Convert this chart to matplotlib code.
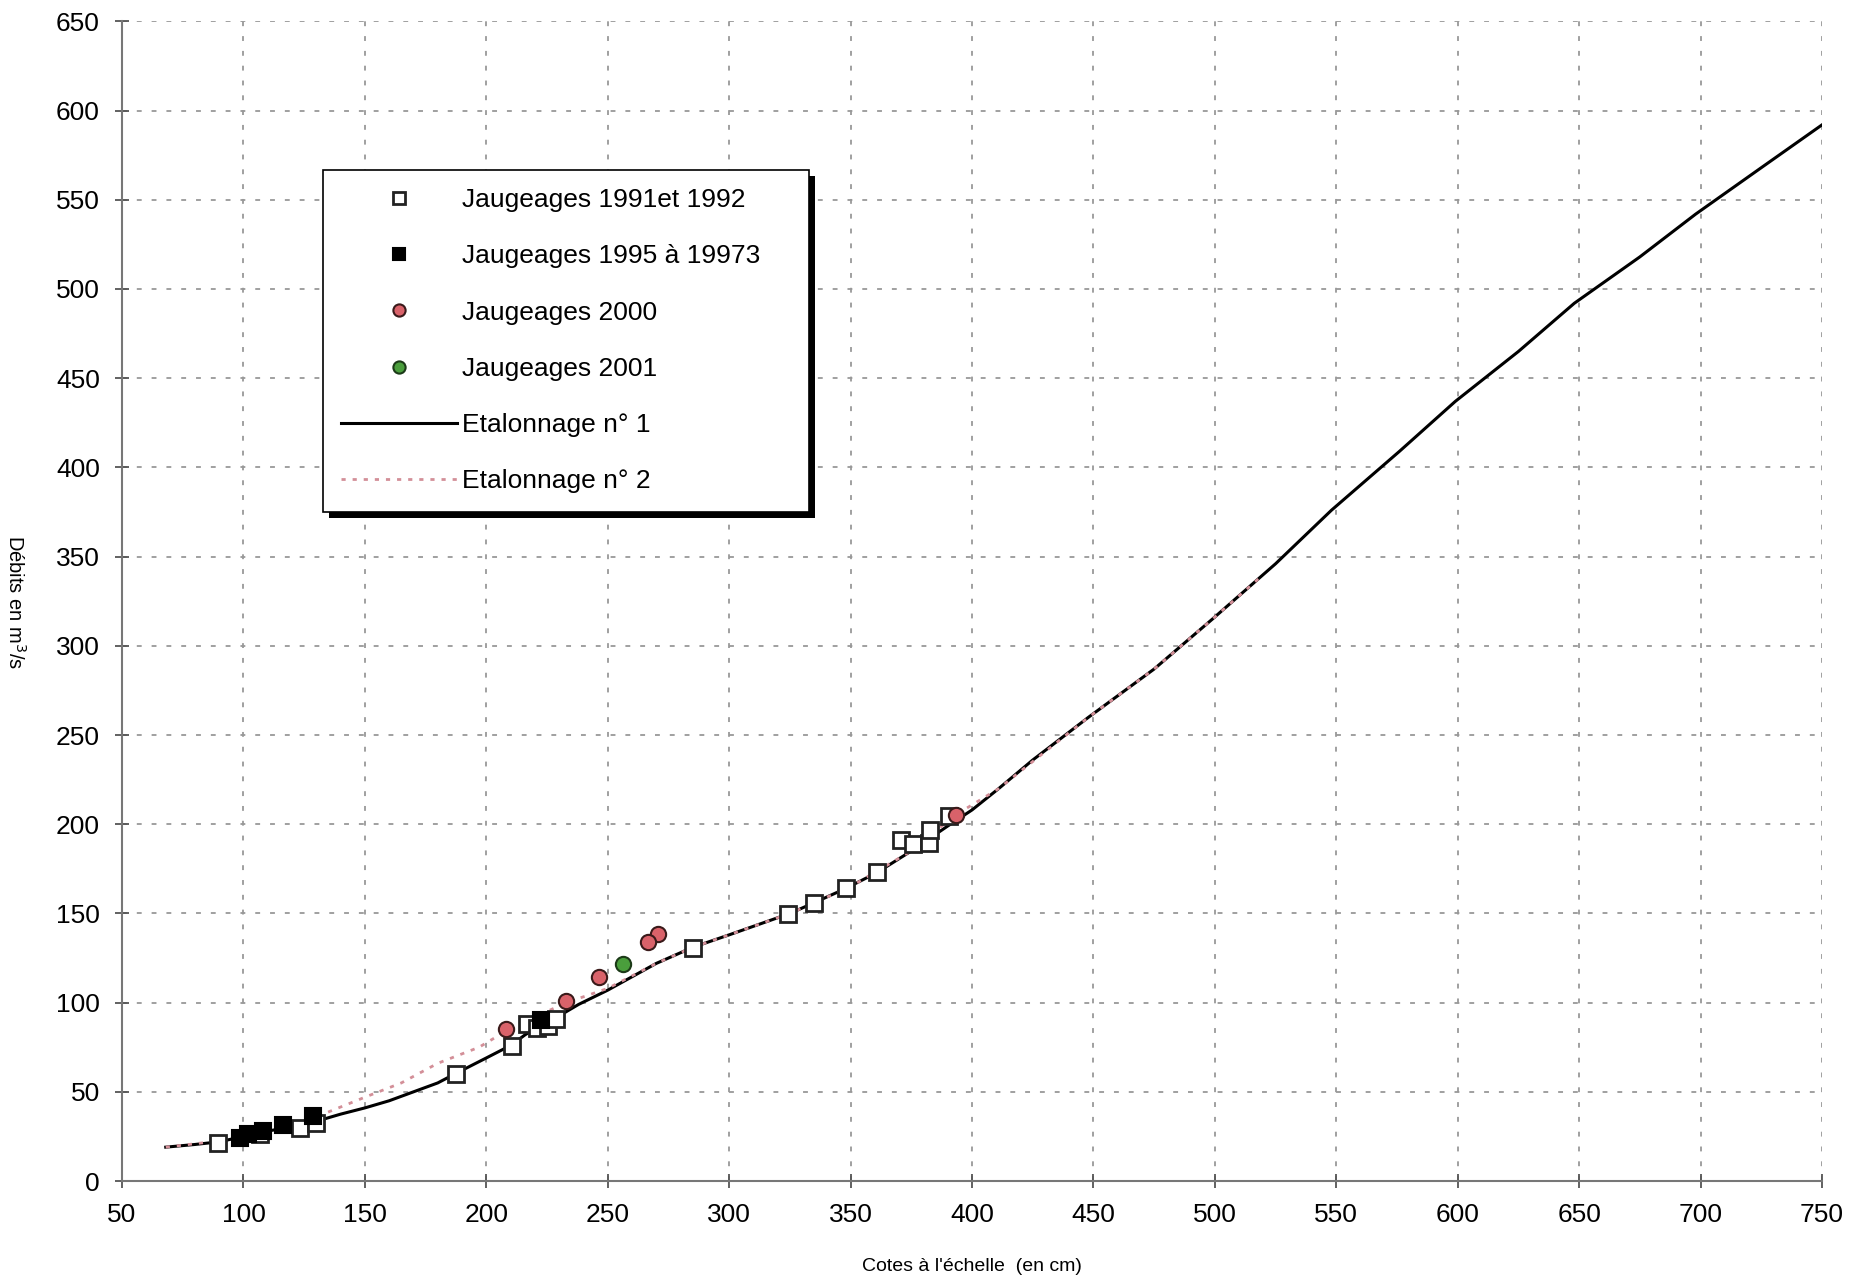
import matplotlib
matplotlib.use("Agg")
import matplotlib.pyplot as plt
from matplotlib.patches import Rectangle
from matplotlib.transforms import IdentityTransform

plt.rcParams["font.family"] = ["Liberation Sans", "DejaVu Sans"]

# calibration curves
etal1_x = [68, 80, 90, 100, 110, 120, 130, 140, 150, 160, 170, 180, 187, 200, 210,
           216, 222, 228, 238, 250, 260, 270, 285, 300, 325, 335, 348, 361, 375,
           390, 400, 411, 425, 448, 475, 499, 525, 548, 576, 599, 625, 648, 675,
           698, 725, 750]
etal1_y = [19, 20.5, 22, 25, 28, 30.5, 33.5, 37.5, 41, 45, 50, 55, 60, 69, 76,
           82, 87, 91, 99, 107, 114.5, 122, 131, 138, 150, 156, 164, 173, 185,
           199, 208, 220, 236, 260, 287, 315, 346, 376, 409, 437, 465, 492, 518,
           542, 568, 592]

etal2_x = [68, 90, 110, 130, 150, 165, 180, 197, 208, 220, 233, 250, 270, 285,
           300, 325, 350, 375, 393, 411, 448, 475, 499, 520]
etal2_y = [19, 22.5, 28, 36, 47, 55, 66, 75, 84, 92, 100, 108, 122, 131,
           138, 150, 165, 185, 205, 220, 260, 287, 315, 340]

# gaugings
j9192_x = [89.6, 106.8, 123.2, 130, 187.4, 210.7, 216.9, 221, 225.4, 228.8,
           285, 324.4, 335.1, 348.1, 360.9, 370.7, 375.5, 382.1, 382.8, 390.6]
j9192_y = [21.2, 26.2, 30, 32.8, 60, 75.8, 88, 86, 87, 90.8,
           130.7, 149.8, 155.9, 164.3, 173.2, 191.4, 189.1, 189.5, 196.6, 204.5]

j9597_x = [98.5, 102, 108, 116.4, 128.7, 222.6]
j9597_y = [24.3, 26.6, 28, 31.5, 36.5, 90.3]

j2000_x = [208.2, 232.9, 246.6, 270.6, 266.5, 393.3]
j2000_y = [85.2, 101, 114.2, 138.6, 133.9, 205]

j2001_x = [256.2]
j2001_y = [121.7]

fig = plt.figure(figsize=(18.63, 12.8), dpi=100)
ax = fig.add_axes([0.0655, 0.0773, 0.9125, 0.906])

ax.plot(etal1_x, etal1_y, color="black", lw=2.2, zorder=3, label="Etalonnage n° 1")
ax.plot(etal2_x, etal2_y, color="#d38f98", lw=2.0, ls=(0, (1.5, 2.5)), zorder=3.5,
        label="Etalonnage n° 2")

ax.plot(j9192_x, j9192_y, ls="none", marker="s", ms=11, mfc="white", mec="#222222",
        mew=2, zorder=4, label="Jaugeages 1991et 1992")
ax.plot(j9597_x, j9597_y, ls="none", marker="s", ms=11, mfc="black", mec="black",
        mew=1.5, zorder=5, label="Jaugeages 1995 à 19973")
ax.plot(j2000_x, j2000_y, ls="none", marker="o", ms=11, mfc="#d9626a", mec="#3a1a1a",
        mew=1.5, zorder=6, label="Jaugeages 2000")
ax.plot(j2001_x, j2001_y, ls="none", marker="o", ms=11, mfc="#4a9e3c", mec="#1c3a18",
        mew=1.5, zorder=6, label="Jaugeages 2001")

ax.set_xlim(50, 750)
ax.set_ylim(0, 650)
ax.set_xticks(range(50, 751, 50))
ax.set_yticks(range(0, 651, 50))
ax.grid(True, color="#999999", ls=(0, (2.7, 5.5)), lw=1.3)
ax.set_axisbelow(True)

for s in ("top", "right"):
    ax.spines[s].set_visible(False)
for s in ("left", "bottom"):
    ax.spines[s].set_color("#777777")
    ax.spines[s].set_linewidth(1.5)
ax.tick_params(direction="inout", length=10, width=1.3, color="#555555",
               labelsize=19, pad=11)

ax.set_xlabel("Cotes à l'échelle  (en cm)", fontsize=14, labelpad=22)
fig.text(0.008, 0.53, "Débits en m$^3$/s", rotation=270, fontsize=14.5,
         ha="center", va="center")

h, l = ax.get_legend_handles_labels()
order = [2, 3, 4, 5, 0, 1]
leg = ax.legend([h[i] for i in order], [l[i] for i in order],
                loc="upper left", bbox_to_anchor=(0.118, 0.872),
                fontsize=19, frameon=False, markerscale=0.8,
                handlelength=4.4, handletextpad=0.2,
                labelspacing=1.22, borderpad=0.7, borderaxespad=0)
leg.set_zorder(10)

# legend box drawn by hand: a bit wider than the entries, with a black drop shadow
fig.canvas.draw()
bb = leg.get_window_extent()
extra = 30
ax.add_patch(Rectangle((bb.x0 + 6, bb.y0 - 6), bb.width + extra, bb.height,
                       transform=IdentityTransform(), facecolor="black",
                       edgecolor="none", zorder=9.5, clip_on=False))
ax.add_patch(Rectangle((bb.x0, bb.y0), bb.width + extra, bb.height,
                       transform=IdentityTransform(), facecolor="white",
                       edgecolor="black", lw=1.2, zorder=9.8, clip_on=False))

fig.savefig("out.png", dpi=100)
